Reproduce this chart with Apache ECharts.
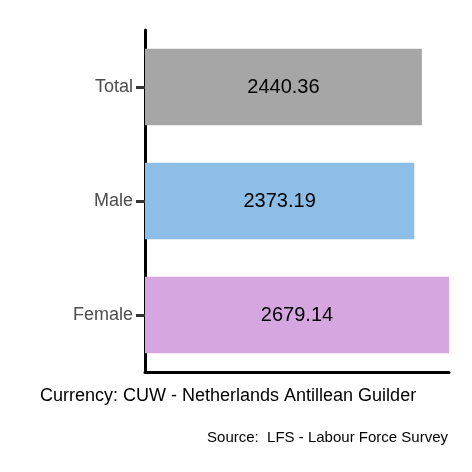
<!DOCTYPE html>
<html>
<head>
<meta charset="utf-8">
<script src="https://cdn.jsdelivr.net/npm/echarts@6/dist/echarts.min.js"></script>
<style>html,body{margin:0;padding:0;background:#fff}#chart{width:472px;height:472px}</style>
</head>
<body>
<div id="chart"></div>
<script>
// data
const categories = ['Female', 'Male', 'Total'];
const values = [2679.14, 2373.19, 2440.36];
const colors = ['#D5A6E0', '#8DBEE8', '#A6A6A6'];

const chart = echarts.init(document.getElementById('chart'));

chart.setOption({
    animation: false,
    grid: { left: 145, right: 23, top: 30, bottom: 100, outerBoundsMode: 'none', containLabel: false },
    xAxis: {
        type: 'value',
        min: 0,
        max: 2679.14,
        axisLine: { show: true, lineStyle: { color: '#000', width: 3 } },
        axisTick: { show: false },
        axisLabel: { show: false },
        splitLine: { show: false }
    },
    yAxis: {
        type: 'category',
        data: categories,
        axisLine: { show: true, lineStyle: { color: '#000', width: 3 } },
        axisTick: { show: true, alignWithLabel: true, length: 9, lineStyle: { color: '#333', width: 3 } },
        axisLabel: { color: '#4d4d4d', fontSize: 18, fontFamily: 'Liberation Sans', margin: 12 }
    },
    series: [{
        type: 'bar',
        barWidth: '67%',
        data: values.map((v, i) => ({ value: v, itemStyle: { color: colors[i] } })),
        label: {
            show: true,
            position: 'inside',
            color: '#000',
            fontSize: 20,
            fontFamily: 'Liberation Sans',
            formatter: p => p.value.toFixed(2)
        }
    }],
    graphic: [{
        type: 'text',
        left: 40,
        top: 387,
        style: { text: 'Currency: CUW - Netherlands Antillean Guilder', fill: '#000', font: '18px "Liberation Sans"' }
    }, {
        type: 'text',
        right: 24,
        top: 430,
        style: { text: 'Source:  LFS - Labour Force Survey', fill: '#000', font: '15px "Liberation Sans"' }
    }]
});
</script>
</body>
</html>
